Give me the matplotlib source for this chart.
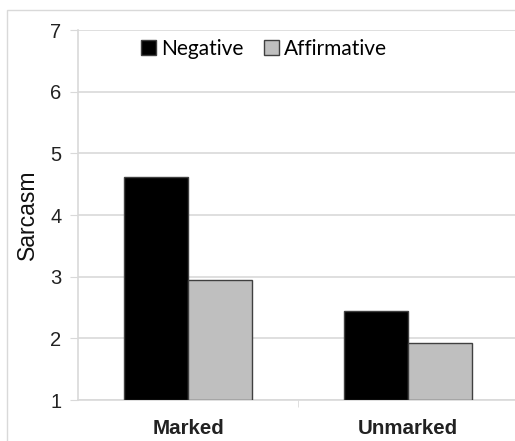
import matplotlib
matplotlib.use("Agg")
import matplotlib.pyplot as plt
import numpy as np
from matplotlib.patches import Rectangle

categories = ["Marked", "Unmarked"]
negative = [4.62, 2.44]
affirmative = [2.94, 1.93]
series_names = ["Negative", "Affirmative"]
yticks = [1, 2, 3, 4, 5, 6, 7]

plt.rcParams['font.family'] = ['Liberation Sans', 'DejaVu Sans']

W, H = 515, 441
fig = plt.figure(figsize=(W/100, H/100), dpi=100)
ax = fig.add_axes([78/W, 1-400/H, 440/W, 370/H])

x = np.arange(len(categories))
bw = 0.29
ax.bar(x - bw/2, [v - 1 for v in negative], bw, bottom=1, color='black',
       edgecolor='#404040', linewidth=1.0, label=series_names[0], zorder=3)
ax.bar(x + bw/2, [v - 1 for v in affirmative], bw, bottom=1, color='#bfbfbf',
       edgecolor='#404040', linewidth=1.0, label=series_names[1], zorder=3)

ax.set_xlim(-0.5, 1.5)
ax.set_ylim(1, 7)
ax.set_yticks(yticks)
ax.set_yticklabels([str(t) for t in yticks], fontsize=14.5, color='#222222')
ax.yaxis.grid(True, color='#d9d9d9', linewidth=1.2, zorder=0)
ax.set_xticks(x)
ax.set_xticklabels(categories, fontsize=14.8, fontweight='bold', color='#222222')
ax.set_xticks([0.5], minor=True)
ax.tick_params(axis='x', which='major', length=0, pad=14)
ax.tick_params(axis='x', which='minor', length=5, color='#d9d9d9')
ax.tick_params(axis='y', length=6, color='#d9d9d9', pad=6)
for s in ['top', 'right']:
    ax.spines[s].set_visible(False)
ax.spines['left'].set_color('#d9d9d9')
ax.spines['bottom'].set_color('#d9d9d9')
ax.spines['left'].set_linewidth(1.2)
ax.spines['bottom'].set_linewidth(1.2)
ax.set_ylabel("Sarcasm", fontsize=16.5, labelpad=8, color='#111111')

leg = ax.legend(loc='center left', bbox_to_anchor=(133/W, 1-49/H),
                bbox_transform=fig.transFigure, ncol=2, frameon=False,
                handlelength=0.7, handleheight=0.7,
                handletextpad=0.25, columnspacing=1.0, borderaxespad=0,
                prop={'family': ['Lato', 'DejaVu Sans'], 'size': 15})

fig.patches.append(Rectangle((7/W, -0.05), 1.1, 1-10/H+0.05, transform=fig.transFigure,
                             fill=False, edgecolor='#d9d9d9', linewidth=1.0))

fig.savefig("out.png", dpi=100)
